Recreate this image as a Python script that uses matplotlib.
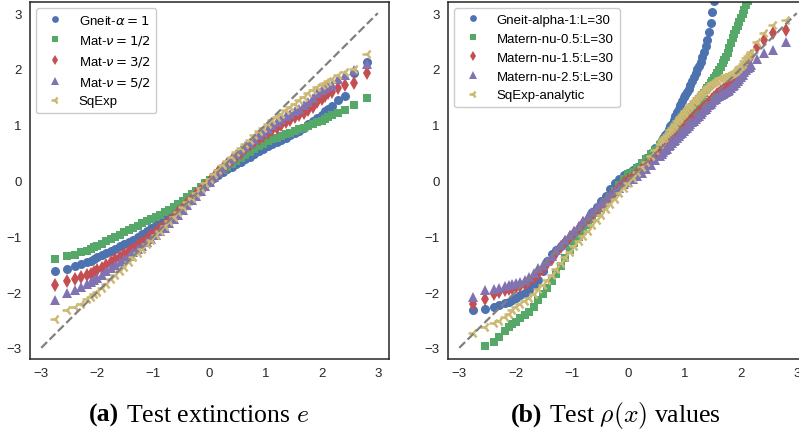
import matplotlib
matplotlib.use("Agg")
import matplotlib.pyplot as plt
import numpy as np

NAN = np.nan  # point lies outside the visible axes

# Theoretical normal quantiles (x axis), left panel
X_E = [-2.76, -2.54, -2.39, -2.29, -2.19, -2.12, -2.06, -2.00,
       -1.92, -1.84, -1.76, -1.68, -1.60, -1.52, -1.44, -1.36, -1.28, -1.20,
       -1.12, -1.04, -0.96, -0.88, -0.80, -0.72, -0.64, -0.56, -0.48, -0.40,
       -0.32, -0.24, -0.16, -0.08, 0.00, 0.08, 0.16, 0.24, 0.32, 0.40,
       0.48, 0.56, 0.64, 0.72, 0.80, 0.88, 0.96, 1.04, 1.12, 1.20,
       1.28, 1.36, 1.44, 1.52, 1.60, 1.68, 1.76, 1.84, 1.92,
       2.00, 2.06, 2.12, 2.19, 2.29, 2.42, 2.57, 2.80]

# Sample quantiles, left panel (test extinctions e)
GNEIT_E = [-1.63, -1.58, -1.53, -1.50, -1.47, -1.44, -1.41, -1.38,
           -1.34, -1.30, -1.26, -1.22, -1.18, -1.14, -1.10, -1.06, -1.01, -0.96,
           -0.91, -0.85, -0.80, -0.74, -0.68, -0.62, -0.56, -0.49, -0.42, -0.35,
           -0.28, -0.21, -0.14, -0.07, 0.00, 0.05, 0.10, 0.15, 0.20, 0.24,
           0.29, 0.33, 0.38, 0.42, 0.47, 0.52, 0.56, 0.61, 0.65, 0.69,
           0.73, 0.77, 0.81, 0.85, 0.89, 0.95, 1.01, 1.07, 1.12,
           1.18, 1.25, 1.29, 1.34, 1.45, 1.52, 1.92, 2.12]
MAT12_E = [-1.40, -1.36, -1.33, -1.29, -1.26, -1.23, -1.20, -1.17,
           -1.13, -1.09, -1.05, -1.01, -0.97, -0.93, -0.89, -0.85, -0.81, -0.77,
           -0.73, -0.69, -0.65, -0.61, -0.57, -0.52, -0.47, -0.42, -0.36, -0.30,
           -0.24, -0.18, -0.12, -0.05, 0.01, 0.07, 0.13, 0.19, 0.24, 0.30,
           0.35, 0.41, 0.46, 0.51, 0.56, 0.61, 0.66, 0.70, 0.74, 0.77,
           0.80, 0.83, 0.86, 0.89, 0.92, 0.95, 0.98, 1.01, 1.04,
           1.07, 1.10, 1.13, 1.17, 1.21, 1.26, 1.36, 1.48]
MAT32_E = [-1.88, -1.81, -1.76, -1.73, -1.70, -1.67, -1.64, -1.61,
           -1.56, -1.51, -1.46, -1.41, -1.37, -1.32, -1.27, -1.22, -1.16, -1.10,
           -1.04, -0.98, -0.92, -0.86, -0.79, -0.72, -0.65, -0.57, -0.49, -0.41,
           -0.33, -0.25, -0.17, -0.09, -0.01, 0.07, 0.15, 0.22, 0.29, 0.36,
           0.43, 0.50, 0.57, 0.63, 0.69, 0.75, 0.80, 0.85, 0.90, 0.95,
           1.00, 1.05, 1.09, 1.13, 1.17, 1.21, 1.26, 1.32, 1.40,
           1.47, 1.52, 1.56, 1.59, 1.65, 1.71, 1.75, 1.92]
MAT52_E = [-2.14, -2.02, -1.97, -1.91, -1.86, -1.82, -1.78, -1.74,
           -1.69, -1.63, -1.57, -1.51, -1.46, -1.41, -1.35, -1.29, -1.23, -1.17,
           -1.11, -1.04, -0.98, -0.91, -0.85, -0.77, -0.69, -0.61, -0.52, -0.44,
           -0.35, -0.27, -0.18, -0.10, -0.02, 0.07, 0.15, 0.23, 0.31, 0.39,
           0.47, 0.54, 0.61, 0.68, 0.75, 0.81, 0.87, 0.93, 0.99, 1.04,
           1.10, 1.15, 1.20, 1.25, 1.29, 1.35, 1.41, 1.48, 1.56,
           1.62, 1.66, 1.69, 1.72, 1.82, 1.89, 1.98, 2.09]
SQEXP_E = [-2.48, -2.33, -2.26, -2.21, -2.13, -2.08, -2.04, -2.00,
           -1.93, -1.85, -1.77, -1.69, -1.62, -1.55, -1.46, -1.38, -1.30, -1.22,
           -1.14, -1.06, -0.98, -0.90, -0.82, -0.73, -0.65, -0.56, -0.48, -0.39,
           -0.31, -0.22, -0.14, -0.05, 0.03, 0.11, 0.19, 0.27, 0.35, 0.43,
           0.51, 0.58, 0.66, 0.73, 0.81, 0.88, 0.95, 1.02, 1.08, 1.14,
           1.20, 1.26, 1.32, 1.38, 1.44, 1.50, 1.56, 1.62, 1.67,
           1.71, 1.74, 1.78, 1.82, 1.89, 1.94, 2.00, 2.26]

# Theoretical normal quantiles, right panel (finer where the curves are steep)
X_RHO = [-2.76, -2.54, -2.39, -2.29, -2.19, -2.12, -2.06, -2.00,
         -1.92, -1.84, -1.76, -1.68, -1.60, -1.52, -1.44, -1.36, -1.28, -1.20,
         -1.12, -1.04, -0.96, -0.88, -0.80, -0.72, -0.64, -0.56, -0.48, -0.40,
         -0.32, -0.24, -0.16, -0.08, 0.00, 0.08, 0.16, 0.24, 0.32, 0.40,
         0.48, 0.56,
         0.60, 0.63, 0.66, 0.69, 0.72, 0.75, 0.78, 0.81, 0.84, 0.87,
         0.90, 0.93, 0.96, 0.99, 1.02, 1.05, 1.08, 1.11, 1.14, 1.17,
         1.20, 1.23, 1.26, 1.29, 1.32, 1.35, 1.38, 1.41, 1.44, 1.47,
         1.50, 1.53, 1.56, 1.59, 1.62, 1.65, 1.68, 1.71, 1.74, 1.77,
         1.80, 1.83, 1.86, 1.89, 1.92, 1.95, 1.98, 2.01, 2.04, 2.07,
         2.10, 2.13, 2.16, 2.19,
         2.29, 2.42, 2.57, 2.80]

# Sample quantiles, right panel (test rho(x) values)
GNEIT_RHO = [-2.33, -2.30, -2.26, -2.23, -2.20, -2.17, -2.14, -2.11,
             -2.06, -2.01, -1.96, -1.88, -1.78, -1.63, -1.45, -1.32, -1.25, -1.18,
             -1.11, -1.04, -0.97, -0.89, -0.80, -0.70, -0.57, -0.48, -0.37, -0.27,
             -0.16, -0.05, 0.03, 0.09, 0.14, 0.19, 0.24, 0.32, 0.41, 0.50,
             0.59, 0.68,
             0.73, 0.77, 0.81, 0.86, 0.92, 0.97, 1.02, 1.08, 1.15, 1.22,
             1.29, 1.36, 1.43, 1.49, 1.53, 1.58, 1.64, 1.71, 1.78, 1.85,
             1.92, 1.99, 2.06, 2.13, 2.21, 2.30, 2.41, 2.52, 2.66, 2.83,
             3.02, 3.22, NAN, NAN, NAN, NAN, NAN, NAN, NAN, NAN,
             NAN, NAN, NAN, NAN, NAN, NAN, NAN, NAN, NAN, NAN,
             NAN, NAN, NAN, NAN,
             NAN, NAN, NAN, NAN]
MAT12_RHO = [NAN, -2.96, -2.89, -2.80, -2.69, -2.62, -2.58, -2.53,
             -2.46, -2.41, -2.35, -2.27, -2.15, -2.03, -1.92, -1.80, -1.67, -1.53,
             -1.39, -1.25, -1.12, -1.01, -0.90, -0.79, -0.69, -0.59, -0.49, -0.39,
             -0.29, -0.18, -0.08, 0.02, 0.11, 0.16, 0.23, 0.31, 0.39, 0.47,
             0.55, 0.63,
             0.67, 0.70, 0.73, 0.77, 0.81, 0.85, 0.89, 0.93, 0.97, 1.01,
             1.05, 1.09, 1.13, 1.17, 1.20, 1.23, 1.26, 1.29, 1.32, 1.35,
             1.39, 1.42, 1.46, 1.49, 1.53, 1.57, 1.62, 1.66, 1.70, 1.74,
             1.78, 1.83, 1.87, 1.92, 1.98, 2.04, 2.10, 2.16, 2.22, 2.29,
             2.37, 2.46, 2.55, 2.63, 2.70, 2.77, 2.84, 2.92, 2.99, 3.06,
             3.14, 3.21, NAN, NAN,
             NAN, NAN, NAN, NAN]
MAT32_RHO = [-2.21, -2.12, -2.03, -1.99, -1.97, -1.95, -1.93, -1.91,
             -1.89, -1.86, -1.81, -1.75, -1.67, -1.59, -1.50, -1.40, -1.30, -1.20,
             -1.11, -1.02, -0.94, -0.86, -0.77, -0.69, -0.61, -0.53, -0.45, -0.37,
             -0.29, -0.21, -0.13, -0.05, 0.01, 0.07, 0.13, 0.20, 0.27, 0.35,
             0.43, 0.51,
             0.55, 0.58, 0.62, 0.65, 0.68, 0.71, 0.74, 0.77, 0.80, 0.83,
             0.86, 0.89, 0.92, 0.95, 0.98, 1.01, 1.04, 1.07, 1.10, 1.13,
             1.16, 1.19, 1.22, 1.25, 1.28, 1.31, 1.34, 1.37, 1.40, 1.43,
             1.46, 1.49, 1.52, 1.55, 1.57, 1.60, 1.62, 1.64, 1.66, 1.68,
             1.70, 1.73, 1.76, 1.79, 1.83, 1.87, 1.92, 1.96, 2.00, 2.04,
             2.09, 2.14, 2.19, 2.24,
             2.40, 2.52, 2.64, 2.70]
MAT52_RHO = [-2.09, -1.97, -1.94, -1.92, -1.90, -1.88, -1.86, -1.84,
             -1.82, -1.78, -1.73, -1.65, -1.57, -1.51, -1.44, -1.35, -1.25, -1.16,
             -1.07, -0.98, -0.90, -0.81, -0.73, -0.64, -0.56, -0.48, -0.40, -0.33,
             -0.26, -0.19, -0.13, -0.07, -0.02, 0.03, 0.08, 0.14, 0.21, 0.28,
             0.36, 0.44,
             0.48, 0.51, 0.54, 0.57, 0.61, 0.64, 0.67, 0.70, 0.73, 0.77,
             0.80, 0.83, 0.86, 0.89, 0.92, 0.95, 0.98, 1.01, 1.04, 1.07,
             1.10, 1.13, 1.16, 1.19, 1.22, 1.26, 1.29, 1.32, 1.35, 1.38,
             1.41, 1.44, 1.46, 1.49, 1.51, 1.53, 1.55, 1.57, 1.59, 1.61,
             1.63, 1.66, 1.69, 1.71, 1.74, 1.78, 1.82, 1.86, 1.90, 1.94,
             1.98, 2.01, 2.04, 2.07,
             2.17, 2.28, 2.34, 2.49]
SQEXP_RHO = [-2.73, -2.63, -2.55, -2.51, -2.45, -2.39, -2.32, -2.27,
             -2.21, -2.16, -2.10, -2.03, -1.95, -1.87, -1.78, -1.69, -1.59, -1.48,
             -1.38, -1.28, -1.18, -1.08, -0.99, -0.90, -0.80, -0.71, -0.61, -0.51,
             -0.42, -0.33, -0.23, -0.13, -0.04, 0.05, 0.15, 0.24, 0.34, 0.44,
             0.54, 0.65,
             0.70, 0.74, 0.78, 0.82, 0.86, 0.90, 0.94, 0.98, 1.02, 1.06,
             1.10, 1.13, 1.17, 1.21, 1.24, 1.28, 1.31, 1.35, 1.38, 1.42,
             1.45, 1.48, 1.52, 1.55, 1.58, 1.61, 1.64, 1.67, 1.70, 1.73,
             1.75, 1.77, 1.79, 1.81, 1.83, 1.84, 1.85, 1.86, 1.87, 1.88,
             1.89, 1.91, 1.92, 1.94, 1.97, 2.00, 2.03, 2.06, 2.09, 2.14,
             2.19, 2.23, 2.27, 2.31,
             2.49, 2.64, 2.79, 2.88]

LABELS_E = ["Gneit-$\\alpha=1$", "Mat-$\\nu=1/2$", "Mat-$\\nu=3/2$",
            "Mat-$\\nu=5/2$", "SqExp"]
LABELS_RHO = ["Gneit-alpha-1:L=30", "Matern-nu-0.5:L=30", "Matern-nu-1.5:L=30",
              "Matern-nu-2.5:L=30", "SqExp-analytic"]

COLORS = ["#4C72B0", "#55A868", "#C44E52", "#8172B2", "#CCB974"]
MARKERS = ["o", "s", "d", "^", "3"]
MARKER_SIZES = [6.5, 6, 7, 7, 7.5]
LIMIT = 3.2


def qq_panel(ax, x, series, labels):
    # One marker series per covariance model
    for y, label, color, marker, size in zip(series, labels, COLORS, MARKERS,
                                             MARKER_SIZES):
        edge = 1.8 if marker == "3" else 0
        ax.plot(x, y, ls="none", marker=marker, ms=size, mew=edge,
                color=color, label=label)

    # Reference diagonal
    ax.plot([-3, 3], [-3, 3], ls="--", lw=1.6, color="#808080")

    ax.set_xlim(-LIMIT, LIMIT)
    ax.set_ylim(-LIMIT, LIMIT)
    ax.set_xticks([-3, -2, -1, 0, 1, 2, 3])
    ax.set_yticks([-3, -2, -1, 0, 1, 2, 3])
    ax.tick_params(length=0, pad=6, labelsize=9.5, labelcolor="#262626")
    for spine in ax.spines.values():
        spine.set_color("#262626")
        spine.set_linewidth(1.1)

    ax.legend(loc="upper left", fontsize=9.5, numpoints=1, fancybox=True,
              edgecolor="#cccccc", framealpha=1.0, borderaxespad=0.45,
              markerscale=0.75, borderpad=0.45)


def caption(fig, renderer, x_center, y, tag, body):
    # Bold tag followed by the caption body, centred as one line
    size = 18.5
    t1 = fig.text(0, y, tag, family="Liberation Serif", fontweight="bold",
                  size=size, va="baseline")
    t2 = fig.text(0, y, body, family="Liberation Serif", size=size,
                  va="baseline", math_fontfamily="cm")
    w_fig = fig.get_figwidth() * fig.dpi
    w1 = t1.get_window_extent(renderer).width
    w2 = t2.get_window_extent(renderer).width
    gap = 0.25 * size * fig.dpi / 72
    x0 = x_center * w_fig - (w1 + gap + w2) / 2
    t1.set_x(x0 / w_fig)
    t2.set_x((x0 + w1 + gap) / w_fig)


def main():
    plt.rcParams["font.family"] = ["Liberation Sans", "DejaVu Sans"]
    plt.rcParams["axes.unicode_minus"] = True

    fig = plt.figure(figsize=(7.99, 4.31), dpi=100)
    ax_e = fig.add_axes([30 / 799, 71 / 431, 359 / 799, 357 / 431])
    ax_rho = fig.add_axes([448 / 799, 71 / 431, 360 / 799, 357 / 431])

    qq_panel(ax_e, X_E, [GNEIT_E, MAT12_E, MAT32_E, MAT52_E, SQEXP_E], LABELS_E)
    qq_panel(ax_rho, X_RHO, [GNEIT_RHO, MAT12_RHO, MAT32_RHO, MAT52_RHO, SQEXP_RHO],
             LABELS_RHO)

    renderer = fig.canvas.get_renderer()
    caption(fig, renderer, 199 / 799, 9 / 431, "(a)", "Test extinctions $e$")
    caption(fig, renderer, 616 / 799, 9 / 431, "(b)", "Test $\\rho(x)$ values")

    fig.savefig("out.png", dpi=100)


if __name__ == "__main__":
    main()
